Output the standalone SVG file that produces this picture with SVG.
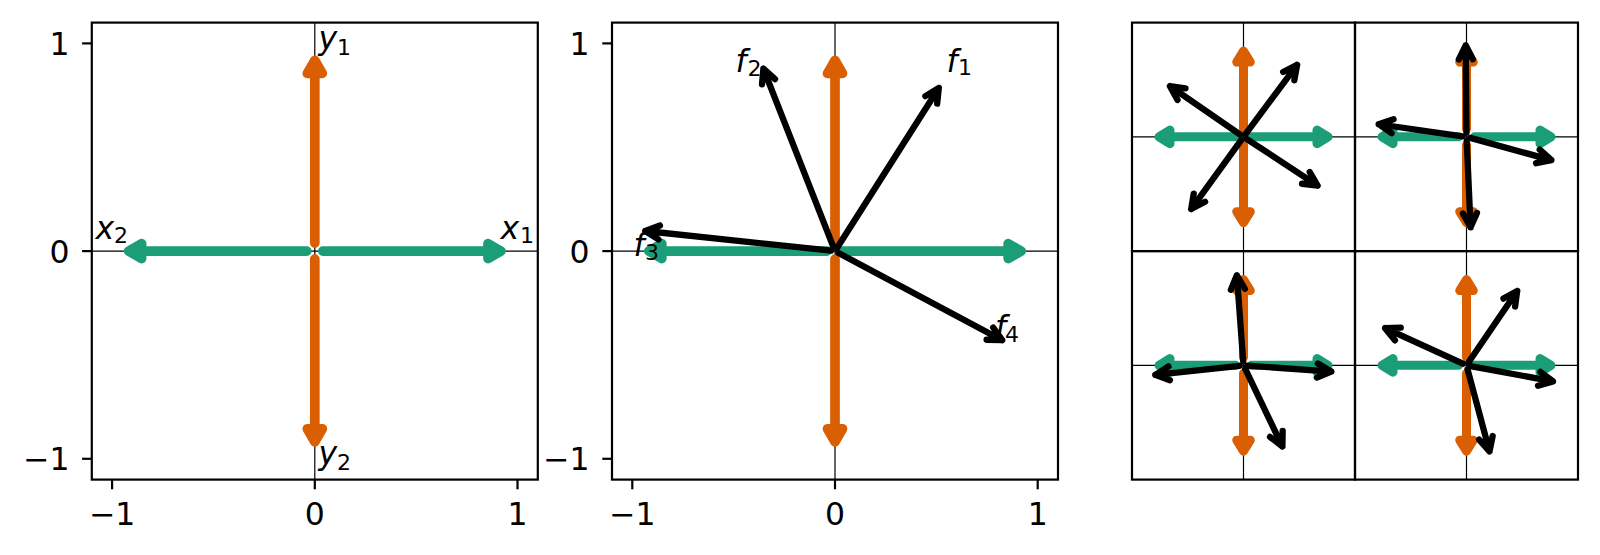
<svg xmlns="http://www.w3.org/2000/svg" xmlns:xlink="http://www.w3.org/1999/xlink" width="1600" height="555" viewBox="0 0 1600 555">
<style>
.frame{fill:none;stroke:#000;stroke-width:2.2}
.zero{stroke:#000;stroke-width:1.2;fill:none}
.tick{stroke:#000;stroke-width:2.2}
.tl{font-family:"DejaVu Sans","Liberation Sans",sans-serif;font-size:31.5px;fill:#000}
.tx{text-anchor:middle}
.ty{text-anchor:end}
.lab{font-family:"DejaVu Sans","Liberation Sans",sans-serif;font-size:31.5px;font-style:italic;fill:#000}
.sub{font-style:normal;font-size:22px}
.or{stroke:#d95f02;fill:#d95f02;stroke-linejoin:round;stroke-linecap:round}
.gr{stroke:#1b9e77;fill:#1b9e77;stroke-linejoin:round;stroke-linecap:round}
.big{stroke-width:9.7}
.sm{stroke-width:9}
.bk{stroke:#000;fill:none;stroke-width:6.3;stroke-linecap:round;stroke-linejoin:round}
</style>
<defs>
<g id="axarrows-big">
<path class="or big" d="M0 -8 V -177.7 M0 -190.7 L -7.5 -177.7 L 7.5 -177.7 Z"/>
<path class="or big" d="M0 8 V 177.7 M0 190.7 L -7.5 177.7 L 7.5 177.7 Z"/>
<path class="gr big" d="M8 0 H 173.2 M186.2 0 L 173.2 -7.5 L 173.2 7.5 Z"/>
<path class="gr big" d="M-8 0 H -173.2 M-186.2 0 L -173.2 -7.5 L -173.2 7.5 Z"/>
</g>
<g id="axarrows-small">
<path class="or sm" d="M0 -8 V -74.8 M0 -85.8 L -6.8 -74.8 L 6.8 -74.8 Z"/>
<path class="or sm" d="M0 8 V 74.8 M0 85.8 L -6.8 74.8 L 6.8 74.8 Z"/>
<path class="gr sm" d="M8 0 H 73.5 M84.5 0 L 73.5 -6.8 L 73.5 6.8 Z"/>
<path class="gr sm" d="M-8 0 H -73.5 M-84.5 0 L -73.5 -6.8 L -73.5 6.8 Z"/>
</g>
</defs>
<rect width="1600" height="555" fill="#fff"/>

<!-- Panel 1 -->
<g id="panel1">
<g id="panel1-zero">
<line class="zero" x1="314.8" y1="22.6" x2="314.8" y2="479.6"/>
<line class="zero" x1="91.8" y1="251.1" x2="537.8" y2="251.1"/>
</g>
<g id="panel1-arrows">
<use xlink:href="#axarrows-big" href="#axarrows-big" transform="translate(314.8 251.1)"/>
</g>
<rect class="frame" x="91.8" y="22.6" width="446" height="457"/>
<g id="panel1-ticks">
<line class="tick" x1="82.1" y1="43.4" x2="91.8" y2="43.4"/>
<line class="tick" x1="82.1" y1="251.1" x2="91.8" y2="251.1"/>
<line class="tick" x1="82.1" y1="458.8" x2="91.8" y2="458.8"/>
<line class="tick" x1="112.1" y1="479.6" x2="112.1" y2="489.3"/>
<line class="tick" x1="314.8" y1="479.6" x2="314.8" y2="489.3"/>
<line class="tick" x1="517.5" y1="479.6" x2="517.5" y2="489.3"/>
<text class="tl ty" x="69.5" y="55">1</text>
<text class="tl ty" x="69.5" y="262.8">0</text>
<text class="tl ty" x="69.5" y="470.4">−1</text>
<text class="tl tx" x="112.1" y="524.5">−1</text>
<text class="tl tx" x="314.8" y="524.5">0</text>
<text class="tl tx" x="517.5" y="524.5">1</text>
</g>
<g id="label-y1"><text class="lab" x="318.5" y="48.5">y<tspan class="sub" x="337" y="55">1</tspan></text></g>
<g id="label-y2"><text class="lab" x="318.5" y="463.5">y<tspan class="sub" x="337" y="470">2</tspan></text></g>
<g id="label-x1"><text class="lab" x="500.5" y="238.5">x<tspan class="sub" x="520" y="243">1</tspan></text></g>
<g id="label-x2"><text class="lab" x="95.5" y="238.5">x<tspan class="sub" x="114" y="243">2</tspan></text></g>
</g>

<!-- Panel 2 -->
<g id="panel2">
<g id="panel2-zero">
<line class="zero" x1="835" y1="22.6" x2="835" y2="479.6"/>
<line class="zero" x1="612" y1="251.1" x2="1058" y2="251.1"/>
</g>
<g id="panel2-arrows">
<use xlink:href="#axarrows-big" href="#axarrows-big" transform="translate(835 251.1)"/>
<path class="bk" d="M837.15 247.72 L938.8 88.0 M937.18 103.62 L938.8 88.0 L925.34 96.08"/>
<path class="bk" d="M833.54 247.38 L763.4 68.7 M762.0 84.32 L763.4 68.7 L775.03 79.15"/>
<path class="bk" d="M831.02 250.68 L645.3 231.0 M658.44 239.4 L645.3 231.0 L659.95 225.51"/>
<path class="bk" d="M838.53 252.98 L1002.2 340.2 M993.15 327.49 L1002.2 340.2 L986.58 339.77"/>
</g>
<rect class="frame" x="612" y="22.6" width="446" height="457"/>
<g id="panel2-ticks">
<line class="tick" x1="602.3" y1="43.4" x2="612" y2="43.4"/>
<line class="tick" x1="602.3" y1="251.1" x2="612" y2="251.1"/>
<line class="tick" x1="602.3" y1="458.8" x2="612" y2="458.8"/>
<line class="tick" x1="632.3" y1="479.6" x2="632.3" y2="489.3"/>
<line class="tick" x1="835" y1="479.6" x2="835" y2="489.3"/>
<line class="tick" x1="1037.7" y1="479.6" x2="1037.7" y2="489.3"/>
<text class="tl ty" x="589.5" y="55">1</text>
<text class="tl ty" x="589.5" y="262.8">0</text>
<text class="tl ty" x="589.5" y="470.4">−1</text>
<text class="tl tx" x="632.3" y="524.5">−1</text>
<text class="tl tx" x="835" y="524.5">0</text>
<text class="tl tx" x="1037.7" y="524.5">1</text>
</g>
<g id="label-f1"><text class="lab" x="946.5" y="71.5">f<tspan class="sub" x="958" y="75">1</tspan></text></g>
<g id="label-f2"><text class="lab" x="735.5" y="71.5">f<tspan class="sub" x="747.5" y="75.5">2</tspan></text></g>
<g id="label-f3"><text class="lab" x="633.5" y="256">f<tspan class="sub" x="645" y="260">3</tspan></text></g>
<g id="label-f4"><text class="lab" x="995" y="338">f<tspan class="sub" x="1005" y="342">4</tspan></text></g>
</g>

<!-- Panel 3 -->
<g id="panel3">
<g id="panel3-zero">
<line class="zero" x1="1243.5" y1="22.6" x2="1243.5" y2="479.6"/>
<line class="zero" x1="1466.5" y1="22.6" x2="1466.5" y2="479.6"/>
<line class="zero" x1="1132" y1="136.85" x2="1578" y2="136.85"/>
<line class="zero" x1="1132" y1="365.35" x2="1578" y2="365.35"/>
</g>
<g id="panel3-tl">
<use xlink:href="#axarrows-small" href="#axarrows-small" transform="translate(1243.5 136.85)"/>
<path class="bk" d="M1245.89 133.64 L1297.1 64.9 M1294.34 80.32 L1297.1 64.9 L1283.12 71.94"/>
<path class="bk" d="M1240.2 134.58 L1169.95 86.15 M1185.46 88.33 L1169.95 86.15 L1177.51 99.87"/>
<path class="bk" d="M1241.15 140.09 L1191.2 209.05 M1193.74 193.6 L1191.2 209.05 L1205.09 201.82"/>
<path class="bk" d="M1246.84 139.05 L1317.6 185.6 M1302.04 183.75 L1317.6 185.6 L1309.75 172.05"/>
</g>
<g id="panel3-tr">
<use xlink:href="#axarrows-small" href="#axarrows-small" transform="translate(1466.5 136.85)"/>
<path class="bk" d="M1466.47 132.85 L1465.7 45.3 M1472.82 59.24 L1465.7 45.3 L1458.82 59.37"/>
<path class="bk" d="M1466.68 140.85 L1470.6 227.3 M1462.99 213.62 L1470.6 227.3 L1476.97 213.0"/>
<path class="bk" d="M1462.54 136.28 L1378.7 124.25 M1393.55 119.31 L1378.7 124.25 L1391.57 133.18"/>
<path class="bk" d="M1470.36 137.91 L1551.4 160.15 M1536.05 163.19 L1551.4 160.15 L1539.76 149.68"/>
</g>
<g id="panel3-bl">
<use xlink:href="#axarrows-small" href="#axarrows-small" transform="translate(1243.5 365.35)"/>
<path class="bk" d="M1243.2 361.36 L1236.85 275.3 M1244.86 288.74 L1236.85 275.3 L1230.9 289.77"/>
<path class="bk" d="M1239.52 365.77 L1155.3 374.8 M1168.47 366.36 L1155.3 374.8 L1169.96 380.27"/>
<path class="bk" d="M1247.49 365.63 L1331.3 371.55 M1316.84 377.54 L1331.3 371.55 L1317.83 363.58"/>
<path class="bk" d="M1245.23 368.96 L1282.4 446.5 M1270.04 436.9 L1282.4 446.5 L1282.66 430.85"/>
</g>
<g id="panel3-br">
<use xlink:href="#axarrows-small" href="#axarrows-small" transform="translate(1466.5 365.35)"/>
<path class="bk" d="M1468.75 362.04 L1517.2 290.95 M1515.11 306.47 L1517.2 290.95 L1503.52 298.59"/>
<path class="bk" d="M1462.86 363.69 L1385.1 328.15 M1400.74 327.61 L1385.1 328.15 L1394.92 340.34"/>
<path class="bk" d="M1470.43 366.08 L1553 381.35 M1537.97 385.68 L1553 381.35 L1540.51 371.92"/>
<path class="bk" d="M1467.53 369.21 L1489.5 451.35 M1479.13 439.63 L1489.5 451.35 L1492.66 436.01"/>
</g>
<g id="panel3-frames">
<rect class="frame" x="1132" y="22.6" width="223" height="228.5"/>
<rect class="frame" x="1355" y="22.6" width="223" height="228.5"/>
<rect class="frame" x="1132" y="251.1" width="223" height="228.5"/>
<rect class="frame" x="1355" y="251.1" width="223" height="228.5"/>
</g>
</g>
</svg>
